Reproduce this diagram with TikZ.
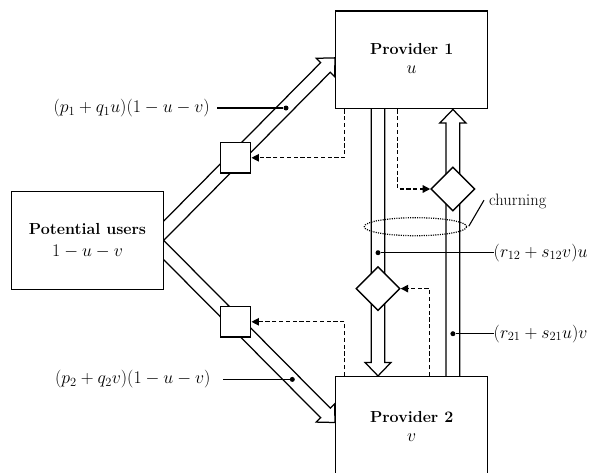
\RequirePackage{fix-cm}
\documentclass[tikz,border=0pt]{standalone}
\usepackage{fontspec}
\usetikzlibrary{calc,arrows.meta,shapes.geometric}
\pgfdeclarelayer{back}
\pgfsetlayers{back,main}

% hollow block arrow from #1 (tail) to #2 (tip)
\newcommand\blockarrow[2]{%
  \coordinate (bab) at ($(#2)!13.5pt!(#1)$);
  \filldraw[blockarrow] (#2)
    -- ($(bab)!13pt!90:(#2)$) -- ($(bab)!6.8pt!90:(#2)$)
    -- ($(#1)!6.8pt!90:(#2)$) -- ($(#1)!6.8pt!-90:(#2)$)
    -- ($(bab)!6.8pt!-90:(#2)$) -- ($(bab)!13pt!-90:(#2)$) -- cycle;}

\begin{document}
\begin{tikzpicture}[x=1pt,y=1pt,
  box/.style={draw, fill=white, line width=1.45pt, minimum width=152pt,
    minimum height=97.7pt, inner sep=0pt},
  gate/.style={draw, fill=white, line width=1.4pt, minimum size=30.5pt, inner sep=0pt},
  valve/.style={draw, fill=white, line width=1.35pt, diamond, minimum width=44pt,
    minimum height=44pt, inner sep=0pt},
  blockarrow/.style={draw, fill=white, line width=1.25pt, line join=miter},
  ctrl/.style={line width=1.25pt, dash pattern=on 4.2pt off 2.6pt,
    -{Triangle[length=7.5pt,width=7.5pt]}},
  leader/.style={line width=1.25pt},
  tap/.style={circle, fill=black, inner sep=0pt, minimum size=5pt},
  title/.style={font=\fontsize{16}{19}\selectfont\bfseries, inner sep=0pt, anchor=base},
  qty/.style={font=\fontsize{17.8}{21}\selectfont, inner sep=0pt, anchor=base},
  lbl/.style={font=\fontsize{17.8}{21}\selectfont, inner sep=0pt},
  ring/.style={draw, ellipse, line width=1.2pt, dash pattern=on 1.1pt off 1.2pt,
    minimum width=102.4pt, minimum height=18pt, inner sep=0pt},
]
\useasboundingbox (0,0) rectangle (593,-472);
\clip (0,0) rectangle (593,-472);

% stocks
\node[box] (P1) at (411.7,-59.85) {};
\node[box] (P2) at (411.7,-425.5) {};
\node[box] (PU) at (87.5,-240.4) {};

\node[title] (t1) at ($(P1.north)+(0,-44.5)$) {Provider 1};
\node[qty]   (u1) at ($(P1.north)+(0,-63.5)$) {$u$};
\node[title] (t2) at ($(P2.north)+(0,-46.3)$) {Provider 2};
\node[qty]   (v2) at ($(P2.north)+(0,-65.3)$) {$v$};
\node[title] (t0) at ($(PU.north)+(0,-43.4)$) {Potential users};
\node[qty]   (n0) at ($(PU.north)+(0,-65.6)$) {$1-u-v$};

% flows
\coordinate (a1s) at ($(PU.east)+(-20,-10)$);
\coordinate (a1t) at ($(P1.west)+(0,2)$);
\coordinate (a2s) at ($(PU.east)+(-20,10)$);
\coordinate (a2t) at ($(P2.west)+(0,3)$);
\coordinate (a3s) at ($(P1.south)+(-33.7,10)$);
\coordinate (a3t) at ($(P2.north)+(-33.7,0)$);
\coordinate (a4s) at ($(P2.north)+(41.2,-10)$);
\coordinate (a4t) at ($(P1.south)+(41.2,0)$);
\begin{pgfonlayer}{back}
  \blockarrow{a1s}{a1t}
  \blockarrow{a2s}{a2t}
  \blockarrow{a3s}{a3t}
  \blockarrow{a4s}{a4t}
\end{pgfonlayer}

% rate controls
\node[gate]  (sq1) at (235.5,-157.8) {};
\node[gate]  (sq2) at (235.5,-321.8) {};
\node[valve] (dm1) at (452.9,-189) {};
\node[valve] (dm2) at (378,-288.6) {};

% information links
\draw[ctrl] ($(P1.south west)+(9.6,0)$) |- (sq1.east);
\draw[ctrl] ($(P1.south west)+(62.6,0)$) |- (dm1.west);
\draw[ctrl] ($(P2.north west)+(9.6,0)$) |- (sq2.east);
\draw[ctrl] ($(P2.north west)+(94.6,0)$) |- (dm2.east);

% rate labels
\node[tap] (d1) at (286,-108) {};
\node[tap] (d2) at (292.3,-379.4) {};
\node[tap] (d3) at (378,-252.7) {};
\node[tap] (d4) at (452.9,-333.7) {};

\node[lbl, anchor=east] (L1) at ($(d1)+(-76,0)$) {$(p_1+q_1u)(1-u-v)$};
\node[lbl, anchor=east] (L2) at ($(d2)+(-81.6,0)$) {$(p_2+q_2v)(1-u-v)$};
\node[lbl, anchor=west] (L3) at ($(d3)+(115.5,0)$) {$(r_{12}+s_{12}v)u$};
\node[lbl, anchor=west] (L4) at ($(d4)+(40.6,0)$) {$(r_{21}+s_{21}u)v$};
\draw[leader] (d1) -- ($(L1.east)+(6.7,0)$);
\draw[leader] (d2) -- ($(L2.east)+(12,0)$);
\draw[leader] (d3) -- (L3.west);
\draw[leader] (d4) -- (L4.west);

% churning
\node[ring] (ring) at (415.5,-226.7) {};
\node[font=\fontsize{16.5}{20}\selectfont, inner sep=0pt, anchor=base west]
  (churn) at (489,-205.7) {churning};
\coordinate (cl) at ($(churn.west)+(-5,1.5)$);
\draw[line width=1.1pt] (cl) -- ($(ring.east)+(1.5,0.5)$);
\end{tikzpicture}
\end{document}
